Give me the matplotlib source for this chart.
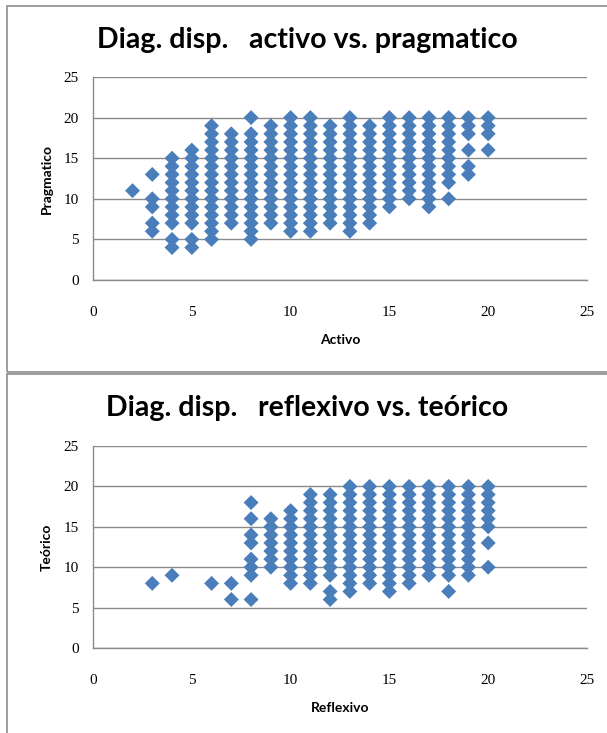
import matplotlib
matplotlib.use("Agg")
import matplotlib.pyplot as plt
from matplotlib.patches import Rectangle

# ---- data: Activo vs Pragmatico ----
activo = (
    [2]
    + [3] * 5
    + [4] * 11
    + [5] * 12
    + [6] * 15
    + [7] * 12
    + [8] * 15
    + [9] * 13
    + [10] * 15
    + [11] * 15
    + [12] * 13
    + [13] * 15
    + [14] * 13
    + [15] * 12
    + [16] * 11
    + [17] * 12
    + [18] * 10
    + [19] * 6
    + [20] * 4
)
pragmatico = (
    [11]
    + [13, 10, 9, 7, 6]
    + [15, 14, 13, 12, 11, 10, 9, 8, 7, 5, 4]
    + [16, 15, 14, 13, 12, 11, 10, 9, 8, 7, 5, 4]
    + [19, 18, 17, 16, 15, 14, 13, 12, 11, 10, 9, 8, 7, 6, 5]
    + [18, 17, 16, 15, 14, 13, 12, 11, 10, 9, 8, 7]
    + [20, 18, 17, 16, 15, 14, 13, 12, 11, 10, 9, 8, 7, 6, 5]
    + [19, 18, 17, 16, 15, 14, 13, 12, 11, 10, 9, 8, 7]
    + [20, 19, 18, 17, 16, 15, 14, 13, 12, 11, 10, 9, 8, 7, 6]
    + [20, 19, 18, 17, 16, 15, 14, 13, 12, 11, 10, 9, 8, 7, 6]
    + [19, 18, 17, 16, 15, 14, 13, 12, 11, 10, 9, 8, 7]
    + [20, 19, 18, 17, 16, 15, 14, 13, 12, 11, 10, 9, 8, 7, 6]
    + [19, 18, 17, 16, 15, 14, 13, 12, 11, 10, 9, 8, 7]
    + [20, 19, 18, 17, 16, 15, 14, 13, 12, 11, 10, 9]
    + [20, 19, 18, 17, 16, 15, 14, 13, 12, 11, 10]
    + [20, 19, 18, 17, 16, 15, 14, 13, 12, 11, 10, 9]
    + [20, 19, 18, 17, 16, 15, 14, 13, 12, 10]
    + [20, 19, 18, 16, 14, 13]
    + [20, 19, 18, 16]
)

# ---- data: Reflexivo vs Teorico ----
reflexivo = (
    [3]
    + [4]
    + [6]
    + [7] * 2
    + [8] * 8
    + [9] * 7
    + [10] * 10
    + [11] * 12
    + [12] * 13
    + [13] * 14
    + [14] * 13
    + [15] * 14
    + [16] * 13
    + [17] * 12
    + [18] * 13
    + [19] * 12
    + [20] * 8
)
teorico = (
    [8]
    + [9]
    + [8]
    + [8, 6]
    + [18, 16, 14, 13, 11, 10, 9, 6]
    + [16, 15, 14, 13, 12, 11, 10]
    + [17, 16, 15, 14, 13, 12, 11, 10, 9, 8]
    + [19, 18, 17, 16, 15, 14, 13, 12, 11, 10, 9, 8]
    + [19, 18, 17, 16, 15, 14, 13, 12, 11, 10, 9, 7, 6]
    + [20, 19, 18, 17, 16, 15, 14, 13, 12, 11, 10, 9, 8, 7]
    + [20, 19, 18, 17, 16, 15, 14, 13, 12, 11, 10, 9, 8]
    + [20, 19, 18, 17, 16, 15, 14, 13, 12, 11, 10, 9, 8, 7]
    + [20, 19, 18, 17, 16, 15, 14, 13, 12, 11, 10, 9, 8]
    + [20, 19, 18, 17, 16, 15, 14, 13, 12, 11, 10, 9]
    + [20, 19, 18, 17, 16, 15, 14, 13, 12, 11, 10, 9, 7]
    + [20, 19, 18, 17, 16, 15, 14, 13, 12, 11, 10, 9]
    + [20, 19, 18, 17, 16, 15, 13, 10]
)

ticks = [0, 5, 10, 15, 20, 25]

panels = [
    dict(x=activo, y=pragmatico, title="Diag. disp.   activo vs. pragmatico",
         xlabel="Activo", ylabel="Pragmatico"),
    dict(x=reflexivo, y=teorico, title="Diag. disp.   reflexivo vs. teórico",
         xlabel="Reflexivo", ylabel="Teórico"),
]

W, H = 607, 733
fig = plt.figure(figsize=(W / 100, H / 100), dpi=100)
fig.patch.set_facecolor("white")

def fx(px):
    return px / W

def fy(py):
    return 1 - py / H

# panel borders (pixel geometry)
borders = [(7, 6, 620, 366), (7, 374, 620, 370)]
for (bx, by, bw, bh) in borders:
    fig.patches.append(Rectangle((fx(bx), fy(by + bh)), bw / W, bh / H,
                                 transform=fig.transFigure, fill=False,
                                 edgecolor="#8c8c8c", linewidth=1.2))

# axes geometry: (left, top, right, bottom) in pixels
geoms = [(93, 77, 587, 280), (93, 446, 587, 648)]
title_y = [40, 408]
xlabel_y = [340, 708]

blue = "#4A7EBB"
for p, (l, t, r, b), ty, xly in zip(panels, geoms, title_y, xlabel_y):
    ax = fig.add_axes([fx(l), fy(b), (r - l) / W, (b - t) / H])
    ax.scatter(p["x"], p["y"], marker="D", s=58, color=blue,
               edgecolors="none", zorder=3, clip_on=False)
    ax.set_xlim(0, 25)
    ax.set_ylim(0, 25)
    ax.set_xticks(ticks)
    ax.set_yticks(ticks)
    ax.grid(axis="y", color="#8a8a8a", linewidth=1.0)
    ax.set_axisbelow(True)
    for s in ["top", "right"]:
        ax.spines[s].set_visible(False)
    for s in ["left", "bottom"]:
        ax.spines[s].set_color("#8a8a8a")
        ax.spines[s].set_linewidth(1.0)
    ax.tick_params(length=0, labelsize=11)
    ax.tick_params(axis="x", pad=19)
    ax.tick_params(axis="y", pad=10)
    for lab in ax.get_xticklabels() + ax.get_yticklabels():
        lab.set_fontfamily("Liberation Serif")
    ax.set_ylabel(p["ylabel"], fontfamily="Lato", fontweight="bold",
                  fontsize=10, labelpad=8)
    fig.text(fx((l + r) / 2), fy(xly), p["xlabel"], ha="center", va="center",
             fontfamily="Lato", fontweight="bold", fontsize=10)
    fig.text(fx(307), fy(ty), p["title"], ha="center", va="center",
             fontfamily="Lato", fontweight="bold", fontsize=20.5)

fig.savefig("out.png", dpi=100)
